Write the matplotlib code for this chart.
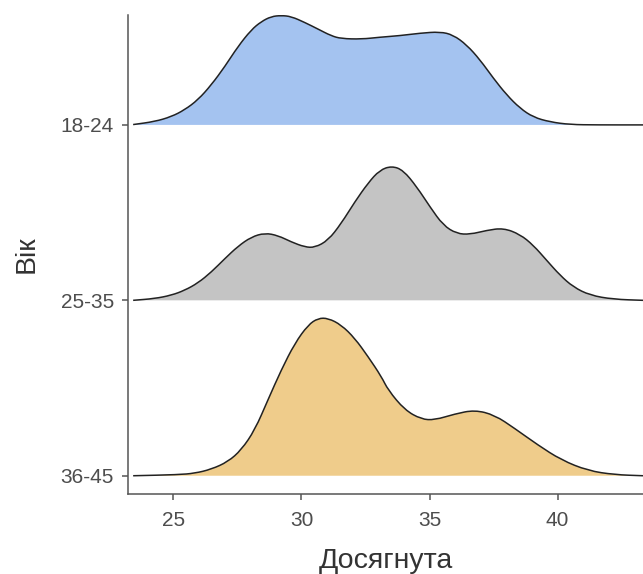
import matplotlib.pyplot as plt
from matplotlib.path import Path
from matplotlib.patches import PathPatch

# Вікові групи (зверху вниз) і їхні кольори
groups = ["18-24", "25-35", "36-45"]
colors = ["#A4C3F0", "#C4C4C4", "#EFCC8B"]

# Криві щільності (висота у частках кроку між рядами)
x_18_24 = [23.43, 24.27, 24.92, 25.44, 25.96, 26.48, 27.01, 27.52, 28.04, 28.43, 28.82,
           29.21, 29.60, 30.13, 30.65, 31.16, 31.55, 32.34, 33.06, 33.85, 34.63,
           35.41, 35.92, 36.45, 36.97, 37.49, 38.01, 38.53, 39.05, 39.70, 40.48,
           41.52, 43.33]
d_18_24 = [0.002, 0.019, 0.047, 0.086, 0.143, 0.228, 0.333, 0.447, 0.542, 0.589, 0.618,
           0.624, 0.618, 0.584, 0.546, 0.508, 0.492, 0.489, 0.500, 0.509, 0.523,
           0.531, 0.513, 0.456, 0.371, 0.266, 0.171, 0.095, 0.044, 0.017, 0.002,
           0.0, 0.0]

x_25_35 = [23.43, 24.27, 24.92, 25.44, 25.96, 26.48, 27.01, 27.52, 28.04, 28.57, 29.09,
           29.60, 30.13, 30.52, 31.04, 31.55, 32.08, 32.60, 33.05, 33.52, 33.97,
           34.50, 35.02, 35.53, 36.06, 36.58, 37.23, 37.88, 38.53, 39.05, 39.57,
           40.09, 40.61, 41.26, 42.17, 43.33]
d_25_35 = [0.0, 0.010, 0.029, 0.057, 0.099, 0.161, 0.238, 0.308, 0.361, 0.384, 0.369,
           0.333, 0.304, 0.301, 0.342, 0.438, 0.561, 0.669, 0.742, 0.766, 0.742,
           0.647, 0.532, 0.428, 0.380, 0.376, 0.399, 0.412, 0.376, 0.314, 0.228,
           0.143, 0.076, 0.029, 0.006, 0.0]

x_36_45 = [23.43, 25.18, 25.83, 26.48, 27.13, 27.65, 28.18, 28.69, 29.21, 29.74, 30.26,
           30.65, 31.04, 31.55, 32.08, 32.60, 33.12, 33.38, 34.03, 34.68, 35.20,
           35.98, 36.76, 37.54, 38.32, 39.23, 40.14, 41.18, 42.22, 43.33]
d_36_45 = [0.0, 0.006, 0.014, 0.037, 0.080, 0.147, 0.261, 0.432, 0.603, 0.755, 0.860,
           0.898, 0.898, 0.860, 0.784, 0.679, 0.565, 0.489, 0.375, 0.322, 0.318,
           0.352, 0.375, 0.346, 0.270, 0.175, 0.090, 0.029, 0.006, 0.0]

xs = [x_18_24, x_25_35, x_36_45]
ds = [d_18_24, d_25_35, d_36_45]
baselines = [3, 2, 1]


def smooth_path(x, y, base=None):
    # крива через середини відрізків, зчитані точки - контрольні
    verts = [(x[0], y[0]), ((x[0] + x[1]) / 2, (y[0] + y[1]) / 2)]
    codes = [Path.MOVETO, Path.LINETO]
    for i in range(1, len(x) - 1):
        verts += [(x[i], y[i]), ((x[i] + x[i + 1]) / 2, (y[i] + y[i + 1]) / 2)]
        codes += [Path.CURVE3, Path.CURVE3]
    verts.append((x[-1], y[-1]))
    codes.append(Path.LINETO)
    if base is not None:
        verts += [(x[-1], base), (x[0], base), (x[0], base)]
        codes += [Path.LINETO, Path.LINETO, Path.CLOSEPOLY]
    return Path(verts, codes)


plt.rcParams["font.family"] = ["Liberation Sans", "DejaVu Sans"]

fig = plt.figure(figsize=(6.43, 5.74), dpi=100)
ax = fig.add_axes([0.1995, 0.1394, 0.8005, 0.8346])

for x, d, b, c in zip(xs, ds, baselines, colors):
    y = [b + v for v in d]
    ax.add_patch(PathPatch(smooth_path(x, y, b), facecolor=c, lw=0, zorder=2))
    ax.add_patch(PathPatch(smooth_path(x, y), facecolor="none",
                           edgecolor="#222222", lw=1.1, zorder=3))

ax.set_xlim(23.24, 43.33)
ax.set_ylim(0.896, 3.627)
ax.set_xticks([25, 30, 35, 40])
ax.set_yticks(baselines)
ax.set_yticklabels(groups)

for s in ["top", "right"]:
    ax.spines[s].set_visible(False)
for s in ["left", "bottom"]:
    ax.spines[s].set_color("#555555")
    ax.spines[s].set_linewidth(1.1)
ax.tick_params(colors="#555555", labelcolor="#4D4D4D", labelsize=15,
               length=4.3, width=1.1)
ax.tick_params(axis="x", pad=8)
ax.tick_params(axis="y", pad=6)

ax.set_xlabel("Досягнута", fontsize=20.5, color="#333333", labelpad=13)
ax.set_ylabel("Вік", fontsize=20.5, color="#333333", labelpad=15)

fig.savefig("out.png", dpi=100)
